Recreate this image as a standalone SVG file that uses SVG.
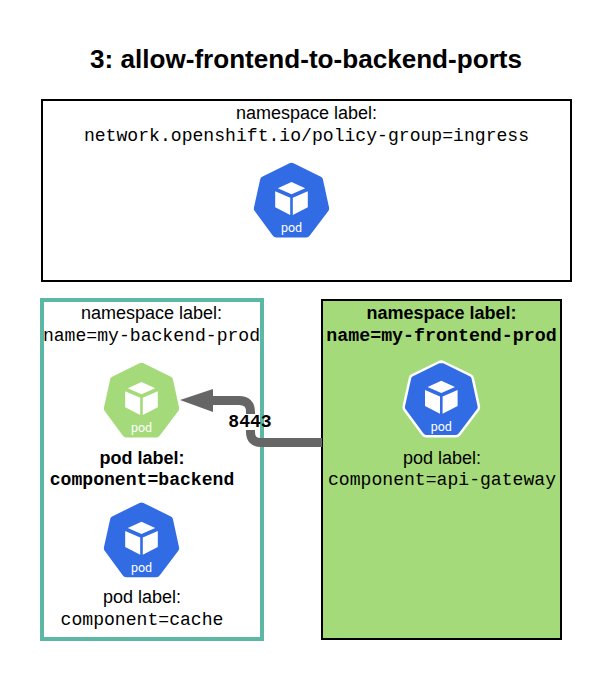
<svg xmlns="http://www.w3.org/2000/svg" width="603" height="682" viewBox="0 0 603 682">
<style>
text{font-family:"Liberation Sans",Arial,sans-serif;font-size:18px;text-anchor:middle;fill:#000}
.m{font-family:"Liberation Mono","Courier New",monospace;font-size:18.1px}
.b{font-weight:700}
.w{font-size:18.3px}
.t{font-size:26.1px;font-weight:700}
.p{font-family:Roboto,"Liberation Sans",sans-serif;font-size:12.5px;fill:#fff}
.h{stroke-linejoin:round}
.c{fill:#fff}
.l{fill:none;stroke:#666;stroke-width:9}
</style>
<defs>
<g id="cube">
<path class="c" d="M-16.3 29L-1.3 35.5V52.7L-16.3 45ZM16.3 29L1.3 35.5V52.7L16.3 45ZM0 19.7L13.7 26L0 32L-13.7 26Z"/>
<text class="p" x="0" y="69.5">pod</text>
</g>
<path id="hep" d="M-2 1L2 1L29.400 14.400Q31 15.200 31.400 17L37.500 45Q38 47 37 48.500L18.500 73Q17 75.200 14.700 75.200H-15.200Q-17.500 75.200 -19 73L-37 48.500Q-38 47 -37.500 45L-31.300 17Q-31 15.200 -29.400 14.400L-2 1Q0 0 2 1Z"/>
</defs>
<rect width="603" height="682" fill="#fff"/>
<text class="t" x="306" y="68">3: allow-frontend-to-backend-ports</text>
<g id="ns-ingress">
<rect x="42" y="100" width="529" height="181" fill="#fff" stroke="#000" stroke-width="2"/>
<text x="306.500" y="119">namespace label:</text>
<text class="m" x="306.500" y="141">network.openshift.io/policy-group=ingress</text>
</g>
<g id="pod-ingress" transform="translate(291.5 162.3)">
<use href="#hep" fill="#326ce5" class="h"/><use href="#cube"/>
</g>
<g id="ns-backend">
<rect x="42" y="300" width="220" height="339" fill="#fff" stroke="#5cb8a5" stroke-width="4"/>
<text x="151.500" y="319">namespace label:</text>
<text class="m" x="151.500" y="341">name=my-backend-prod</text>
</g>
<g id="ns-frontend">
<rect x="322" y="300" width="239" height="339" fill="#a5da7a" stroke="#000" stroke-width="2"/>
<text class="b" x="441.500" y="319">namespace label:</text>
<text class="m b w" x="441.500" y="341">name=my-frontend-prod</text>
</g>
<g id="pod-backend" transform="translate(141.500 362.300)">
<use href="#hep" fill="#a5da7a" class="h"/><use href="#cube"/>
</g>
<g id="label-backend">
<text class="b" x="142" y="464">pod label:</text>
<text class="m b" x="142" y="485">component=backend</text>
</g>
<g id="pod-cache" transform="translate(141.500 502)">
<use href="#hep" fill="#326ce5" class="h"/><use href="#cube"/>
</g>
<g id="label-cache">
<text x="142" y="603">pod label:</text>
<text class="m" x="142" y="625">component=cache</text>
</g>
<g id="pod-frontend" transform="translate(441.300 361)">
<use href="#hep" fill="#326ce5" stroke="#fff" stroke-width="2.500" class="h"/><use href="#cube"/>
</g>
<g id="label-frontend">
<text x="442" y="464">pod label:</text>
<text class="m" x="442" y="485">component=api-gateway</text>
</g>
<g id="connectors">
<path class="l" d="M322 442.500H261Q250.500 442.500 250.500 432V412Q250.500 400.500 239 400.500H212"/>
<path d="M180 400L213 389V412Z" fill="#666"/>
<path d="M240 414H257V430H240Z" fill="#fff"/>
<path d="M262 412H264V430H262Z" fill="#5cb8a5"/>
<text class="m b" x="250" y="426.500">8443</text>
</g>
</svg>
